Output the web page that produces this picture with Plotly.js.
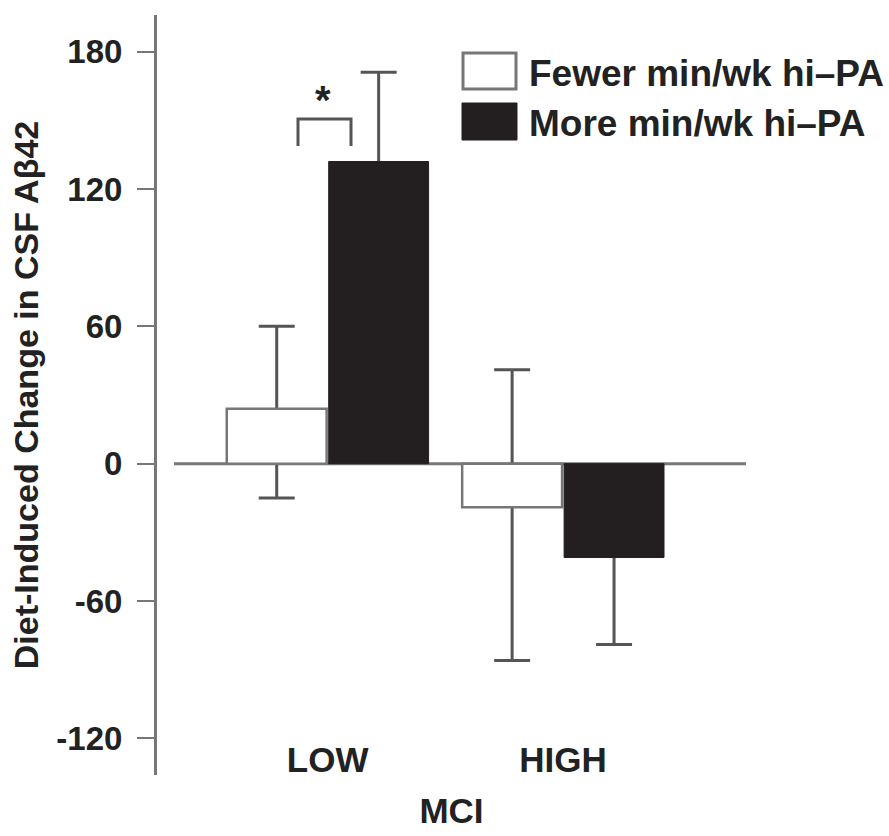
<!DOCTYPE html>
<html>
<head>
<meta charset="utf-8">
<script src="https://cdn.plot.ly/plotly-3.0.1.min.js"></script>
<style>html,body{margin:0;padding:0;background:#fff;}#chart{width:889px;height:836px;}</style>
</head>
<body>
<div id="chart"></div>
<script>
// ---- data ----
const categories = ['LOW', 'HIGH'];
const seriesNames = ['Fewer min/wk hi\u2013PA', 'More min/wk hi\u2013PA'];
const fewerValues = [24, -19];
const fewerErrPlus = [36, 60];
const fewerErrMinus = [39, 67];
const moreValues = [132, -41];
const moreErr = [39, 38];
const yTickVals = [-120, -60, 0, 60, 120, 180];
const yTickText = ['-120', '-60', '0', '60', '120', '180'];
const yTitle = 'Diet-Induced Change in CSF A\u03b242';
const xTitle = 'MCI';
const sigLabel = '*';

// ---- layout helpers (pixel -> paper) ----
const W = 889, H = 836;
const PL = 157, PR = 746, PT = 15, PB = 775;
const px = v => (v - PL) / (PR - PL);
const py = v => (PB - v) / (PB - PT);

const FONT = 'Liberation Sans, Arial, Helvetica, sans-serif';
const TXT = '#222222';
const GRAY = '#777777';
const ERR = '#555555';
const BLACK = '#231f20';

// error bars are drawn by transparent bars first, so the visible bars cover them
const traces = [
  {
    type: 'bar', name: seriesNames[0] + ' (SE)', x: categories, y: fewerValues, offsetgroup: 'fewer',
    marker: {color: 'rgba(0,0,0,0)', line: {width: 0}},
    error_y: {type: 'data', symmetric: false, array: fewerErrPlus, arrayminus: fewerErrMinus,
              color: ERR, thickness: 3, width: 18},
    showlegend: false, hoverinfo: 'skip'
  },
  {
    type: 'bar', name: seriesNames[1] + ' (SE)', x: categories, y: moreValues, offsetgroup: 'more',
    marker: {color: 'rgba(0,0,0,0)', line: {width: 0}},
    error_y: {type: 'data', symmetric: true, array: moreErr,
              color: ERR, thickness: 3, width: 18},
    showlegend: false, hoverinfo: 'skip'
  },
  {
    type: 'bar', name: seriesNames[0], x: categories, y: fewerValues, offsetgroup: 'fewer',
    marker: {color: '#ffffff', line: {color: GRAY, width: 2.5}},
    showlegend: false, hoverinfo: 'skip'
  },
  {
    type: 'bar', name: seriesNames[1], x: categories, y: moreValues, offsetgroup: 'more',
    marker: {color: BLACK, line: {color: BLACK, width: 1}},
    showlegend: false, hoverinfo: 'skip'
  }
];

const shapes = [
  // zero reference line
  {type: 'line', xref: 'paper', yref: 'y', x0: px(174), x1: px(746), y0: 0, y1: 0,
   line: {color: GRAY, width: 3}, layer: 'below'},
  // significance bracket
  {type: 'path', xref: 'paper', yref: 'paper',
   path: 'M ' + px(298) + ',' + py(146) + ' L ' + px(298) + ',' + py(119) +
         ' L ' + px(351) + ',' + py(119) + ' L ' + px(351) + ',' + py(146),
   line: {color: ERR, width: 3}},
  // legend boxes
  {type: 'rect', xref: 'paper', yref: 'paper', x0: px(463), x1: px(516), y0: py(89), y1: py(53),
   fillcolor: '#ffffff', line: {color: GRAY, width: 3}},
  {type: 'rect', xref: 'paper', yref: 'paper', x0: px(462), x1: px(517), y0: py(140), y1: py(103),
   fillcolor: BLACK, line: {color: BLACK, width: 1}}
];

const annotations = [
  {xref: 'paper', yref: 'paper', x: px(323), y: py(100), text: sigLabel, showarrow: false,
   xanchor: 'center', yanchor: 'middle', font: {family: FONT, size: 40, color: TXT, weight: 'bold'}},
  {xref: 'paper', yref: 'paper', x: px(527), y: py(73), text: seriesNames[0], showarrow: false,
   xanchor: 'left', yanchor: 'middle', font: {family: FONT, size: 37, color: TXT, weight: 'bold'}},
  {xref: 'paper', yref: 'paper', x: px(527), y: py(123), text: seriesNames[1], showarrow: false,
   xanchor: 'left', yanchor: 'middle', font: {family: FONT, size: 37, color: TXT, weight: 'bold'}}
];

const layout = {
  width: W, height: H,
  margin: {l: PL, r: W - PR, t: PT, b: H - PB, pad: 0},
  paper_bgcolor: '#ffffff', plot_bgcolor: '#ffffff',
  font: {family: FONT, color: TXT},
  barmode: 'group', bargap: 0.134, bargroupgap: 0.02,
  showlegend: false,
  xaxis: {
    type: 'category', range: [-0.725, 1.777],
    anchor: 'free', position: 0.051,
    showline: false, ticks: '', showgrid: false, zeroline: false,
    tickfont: {family: FONT, size: 35, color: TXT, weight: 'bold'},
    title: {text: xTitle, standoff: 20, font: {family: FONT, size: 35, color: TXT, weight: 'bold'}},
    fixedrange: true
  },
  yaxis: {
    range: [-136, 196],
    tickvals: yTickVals, ticktext: yTickText,
    showline: true, linecolor: GRAY, linewidth: 3,
    ticks: 'outside', ticklen: 17, tickwidth: 2, tickcolor: GRAY,
    ticklabelstandoff: 8,
    showgrid: false, zeroline: false,
    tickfont: {family: FONT, size: 33, color: TXT, weight: 'bold'},
    title: {text: yTitle, standoff: 8, font: {family: FONT, size: 34, color: TXT, weight: 'bold'}},
    fixedrange: true
  },
  shapes: shapes,
  annotations: annotations
};

Plotly.newPlot('chart', traces, layout, {displayModeBar: false, staticPlot: true});
</script>
</body>
</html>
